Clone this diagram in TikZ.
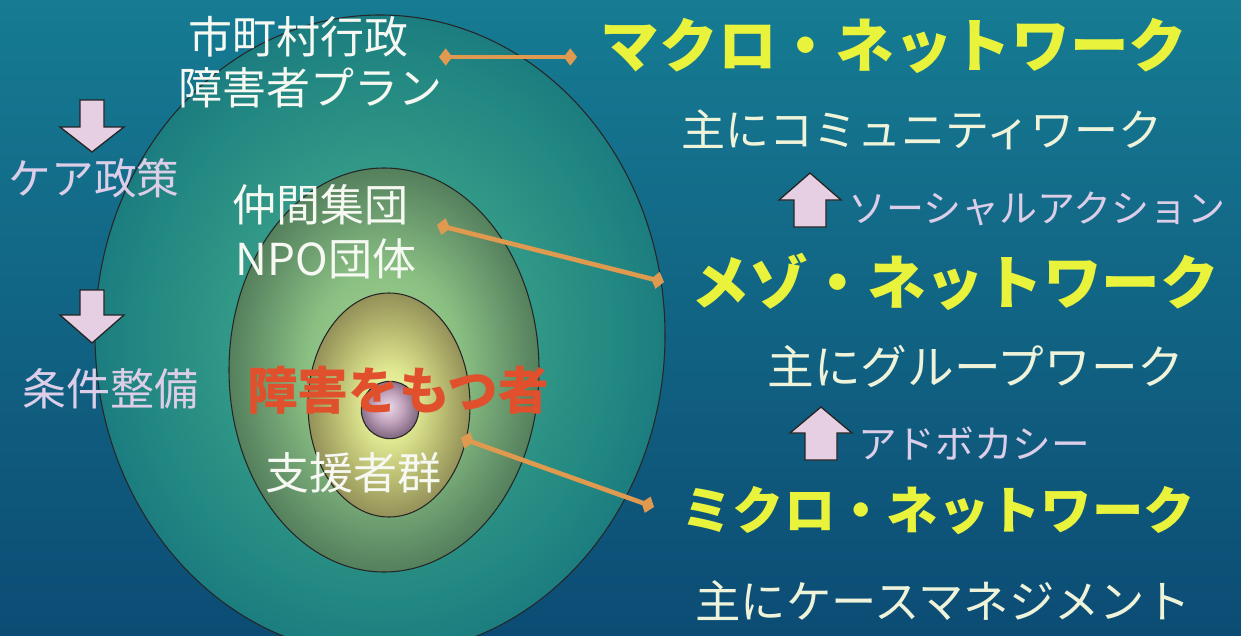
\documentclass[tikz,border=0pt]{standalone}
\usepackage{fontspec}
\newfontfamily\jp{Noto Sans CJK JP}
\usetikzlibrary{arrows.meta}
\definecolor{bgtop}{HTML}{167B93}
\definecolor{bgbot}{HTML}{0C4C74}
\definecolor{pop}{HTML}{EAF33C}
\definecolor{wtext}{HTML}{F6F8F2}
\definecolor{ptext}{HTML}{EEF3DA}
\definecolor{lav}{HTML}{DCCDE8}
\definecolor{pinkfill}{HTML}{E6CFE2}
\definecolor{redt}{HTML}{E0502C}
\definecolor{lineor}{HTML}{E09A50}
\pgfdeclareradialshading{shOuter}{\pgfpoint{0bp}{0bp}}{rgb(0bp)=(0.32,0.72,0.60); rgb(12.5bp)=(0.20,0.60,0.53); rgb(20bp)=(0.14,0.54,0.51); rgb(25bp)=(0.11,0.49,0.50); rgb(50bp)=(0.11,0.49,0.50)}
\pgfdeclareradialshading{shMid}{\pgfpoint{0bp}{0bp}}{rgb(0bp)=(0.66,0.84,0.58); rgb(12.5bp)=(0.54,0.75,0.51); rgb(19bp)=(0.43,0.62,0.44); rgb(25bp)=(0.33,0.50,0.36); rgb(50bp)=(0.33,0.50,0.36)}
\pgfdeclareradialshading{shIn}{\pgfpoint{0bp}{0bp}}{rgb(0bp)=(0.96,0.98,0.70); rgb(8bp)=(0.88,0.91,0.57); rgb(17bp)=(0.72,0.73,0.44); rgb(25bp)=(0.58,0.57,0.35); rgb(50bp)=(0.58,0.57,0.35)}
\pgfdeclareradialshading{shBall}{\pgfpoint{-2bp}{3bp}}{rgb(0bp)=(0.92,0.86,0.92); rgb(13bp)=(0.76,0.64,0.74); rgb(25bp)=(0.52,0.42,0.52); rgb(50bp)=(0.52,0.42,0.52)}
\tikzset{
  ring/.style={draw=black!85, line width=0.8pt},
  orline/.style={draw=lineor, line width=3.5pt, arrows={Diamond[length=10pt,width=13pt]-Diamond[length=10pt,width=13pt]}},
  pinkarrow/.style={fill=pinkfill, draw=black!85, line width=1pt, line join=miter},
  wtx/.style={text=wtext, inner sep=0pt, font=\jp\fontsize{33}{36}\selectfont},
  ptx/.style={text=ptext, inner sep=0pt, font=\jp\fontsize{33}{36}\selectfont},
  lavtx/.style={text=lav, inner sep=0pt, font=\jp\fontsize{31}{34}\selectfont},
  poptx/.style={text=pop, inner sep=0pt, font=\jp\bfseries\fontsize{44}{48}\selectfont},
}
\begin{document}
\begin{tikzpicture}[x=0.75pt,y=-0.75pt]
\useasboundingbox (0,0) rectangle (1241,635);
\clip (0,0) rectangle (1241,635);
\shade[top color=bgtop, bottom color=bgbot] (0,0) rectangle (1241,635);
% concentric rings
\shade[ring, shading=shOuter] (380,335) ellipse [x radius=213.75pt, y radius=240pt];
\shade[ring, shading=shMid] (384,370) ellipse [x radius=116.25pt, y radius=151.5pt];
\shade[ring, shading=shIn] (389,405) ellipse [x radius=60.75pt, y radius=84pt];
\shade[ring, shading=shBall] (390,410) ellipse [x radius=21.5pt, y radius=21.5pt];
% left texts
\node[wtx] (t1) at (298,37) {市町村行政};
\node[wtx] (t2) at (310,88) {障害者プラン};
\node[lavtx, font=\jp\fontsize{32}{34}\selectfont] (care) at (94,178) {ケア政策};
\node[lavtx, font=\jp\fontsize{33}{34}\selectfont] (joken) at (110,389) {条件整備};
\node[wtx] (t3) at (320,205) {仲間集団};
\node[wtx] (t4) at (326,259) {NPO団体};
\node[text=redt, inner sep=0pt, font=\jp\bfseries\fontsize{38}{40}\selectfont] (t5) at (398,390) {障害をもつ者};
\node[wtx] (t6) at (353,473) {支援者群};
% right texts
\node[poptx] (macro) at (894,46) {マクロ・ネットワーク};
\node[ptx] (m1) at (922,130) {主にコミュニティワーク};
\node[lavtx, font=\jp\fontsize{28.5}{30}\selectfont] (sa) at (1037,209) {ソーシャルアクション};
\node[poptx] (meso) at (955,282) {メゾ・ネットワーク};
\node[ptx, font=\jp\fontsize{35}{36}\selectfont] (m2) at (976,367) {主にグループワーク};
\node[lavtx, font=\jp\fontsize{29}{30}\selectfont] (adv) at (974,443) {アドボカシー};
\node[poptx, font=\jp\bfseries\fontsize{38.5}{40}\selectfont] (micro) at (938,511) {ミクロ・ネットワーク};
\node[ptx, font=\jp\fontsize{34}{36}\selectfont] (m3) at (943,601) {主にケースマネジメント};
% block arrows
\draw[pinkarrow, shift={(92,100)}] (-12,0) -- (12,0) -- (12,27) -- (32,27) -- (0,52) -- (-32,27) -- (-12,27) -- cycle;
\draw[pinkarrow, shift={(92,290)}] (-12,0) -- (12,0) -- (12,25) -- (32,25) -- (0,53) -- (-32,25) -- (-12,25) -- cycle;
\draw[pinkarrow, shift={(810,173)}] (0,0) -- (31,27) -- (16,27) -- (16,54) -- (-16,54) -- (-16,27) -- (-31,27) -- cycle;
\draw[pinkarrow, shift={(821,407)}] (0,0) -- (31,26) -- (16,26) -- (16,53) -- (-16,53) -- (-16,26) -- (-31,26) -- cycle;
% connector lines
\coordinate (a1) at (439,57);
\coordinate (a2) at (577,57);
\coordinate (b1) at (437,225);
\coordinate (b2) at (664,282);
\coordinate (c1) at (461,438);
\coordinate (c2) at (654,507);
\draw[orline] (a1) -- (a2);
\draw[orline] (b1) -- (b2);
\draw[orline] (c1) -- (c2);
\end{tikzpicture}
\end{document}
